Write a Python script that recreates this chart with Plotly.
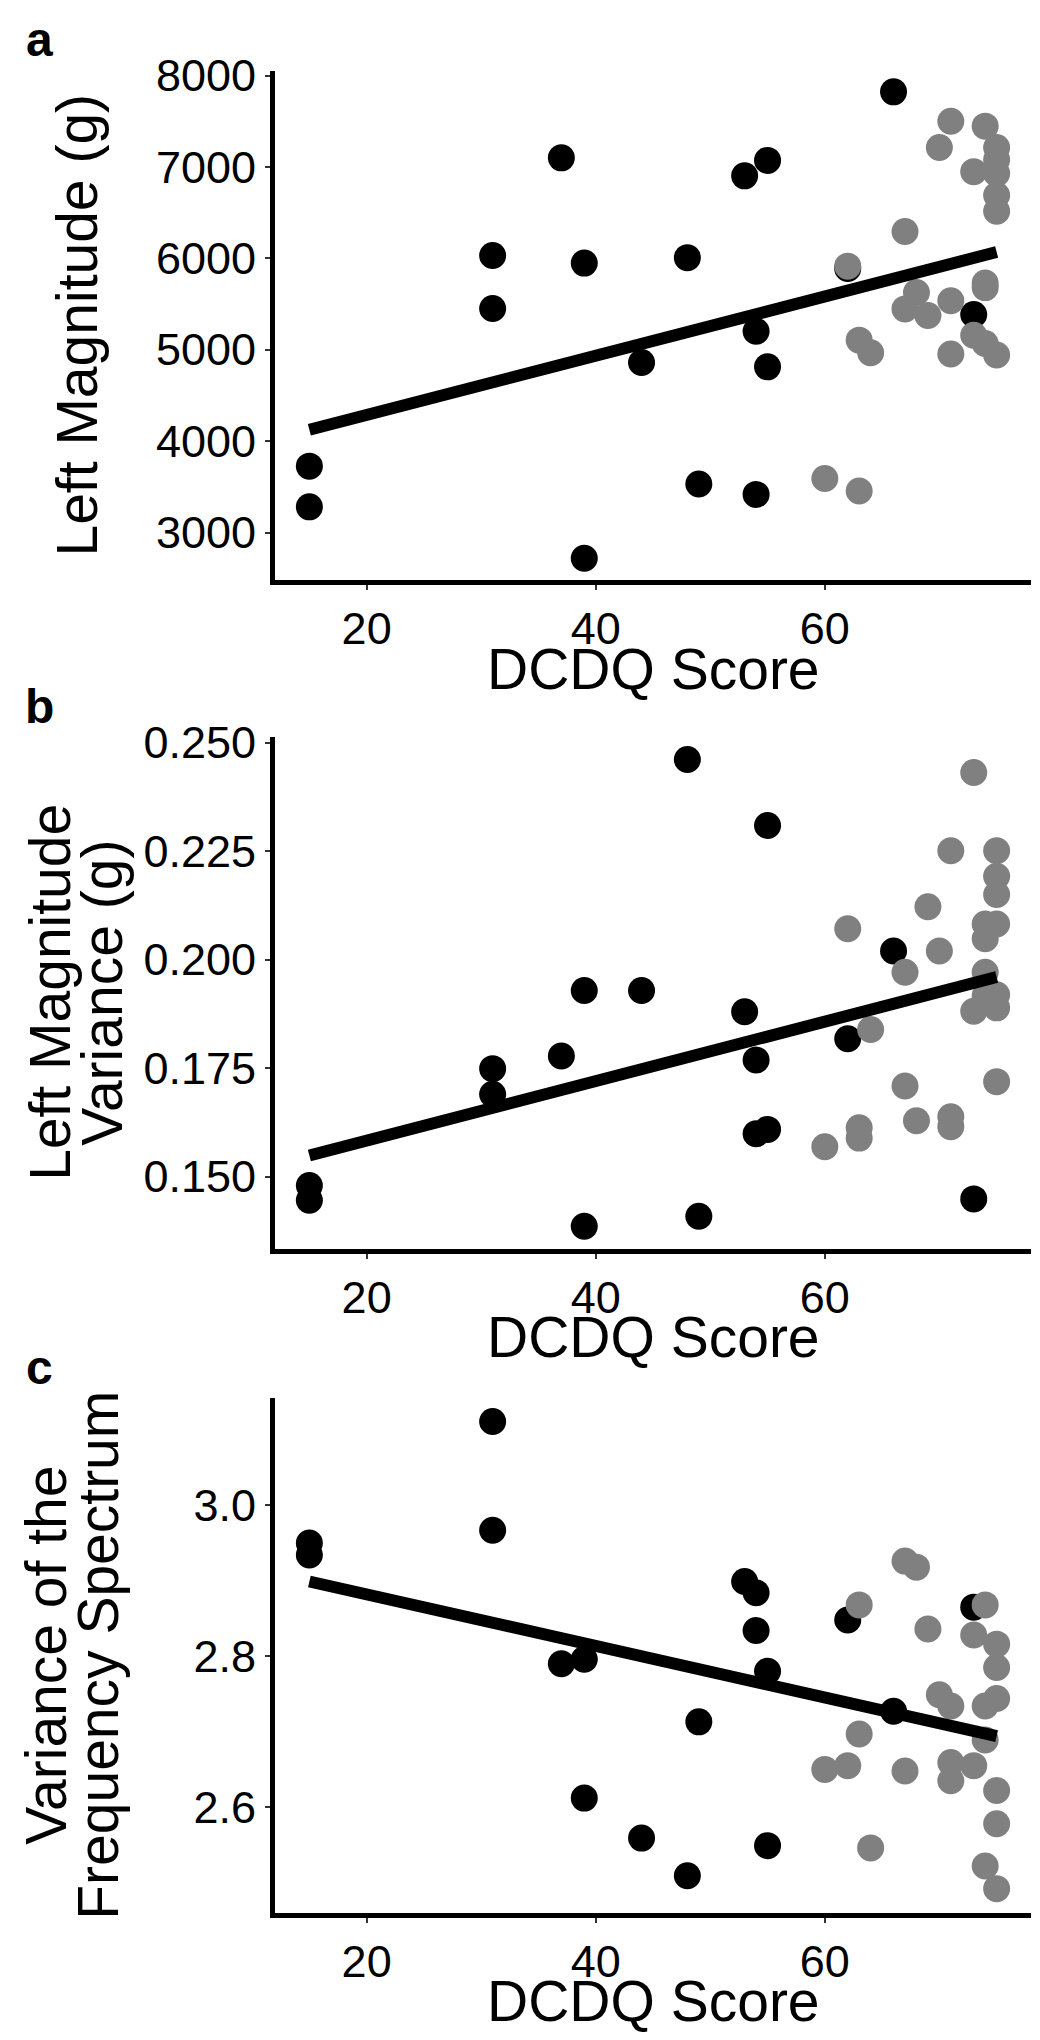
import plotly.graph_objects as go

# ---------------- data ----------------
black_x = [15, 15, 31, 31, 37, 39, 39, 44, 48, 49, 53, 54, 54, 55, 55, 62, 66, 73]

a_black = [3726, 3281, 6032, 5451, 7100, 5948, 2719, 4860, 6008, 3530, 6903, 5202, 3417, 7072, 4813, 5890, 7822, 5385]
b_black = [0.1480, 0.1446, 0.1749, 0.1690, 0.1778, 0.1929, 0.1386, 0.1929, 0.2461, 0.1409,
           0.1880, 0.1769, 0.1599, 0.2309, 0.1609, 0.1818, 0.2020, 0.1449]
c_black = [2.950, 2.934, 3.111, 2.967, 2.790, 2.796, 2.612, 2.559, 2.509, 2.713,
           2.899, 2.884, 2.834, 2.780, 2.549, 2.848, 2.727, 2.865]

a_gray_x = [60, 62, 63, 63, 64, 67, 67, 68, 69, 70, 71, 71, 71, 73, 73, 74, 74, 74, 74, 75, 75, 75, 75, 75, 75]
a_gray = [3591, 5915, 5105, 3454, 4968, 6294, 5447, 5627, 5375, 7213, 7501, 5537, 4954, 6949, 5159,
          7447, 5730, 5680, 5068, 7213, 7080, 6930, 6690, 6515, 4943]

b_gray_x = [60, 62, 63, 63, 64, 67, 67, 68, 69, 70, 71, 71, 71, 73, 73, 74, 74, 74, 74, 75, 75, 75, 75, 75, 75, 75]
b_gray = [0.1569, 0.2071, 0.1613, 0.1589, 0.1839, 0.1971, 0.1709, 0.1629, 0.2122, 0.2020, 0.2251, 0.1638, 0.1615,
          0.2431, 0.1881, 0.2082, 0.2048, 0.1971, 0.1917, 0.2251, 0.2192, 0.2150, 0.2082, 0.1919, 0.1889, 0.1719]

c_gray_x = [60, 62, 63, 63, 64, 67, 67, 68, 69, 70, 71, 71, 71, 73, 73, 74, 74, 74, 74, 75, 75, 75, 75, 75, 75]
c_gray = [2.650, 2.655, 2.868, 2.697, 2.546, 2.926, 2.648, 2.918, 2.836, 2.749, 2.734, 2.659, 2.635,
          2.828, 2.655, 2.868, 2.734, 2.689, 2.522, 2.816, 2.785, 2.744, 2.622, 2.578, 2.492]

fit_x = [15, 75]
a_fit = [4125, 6069]
b_fit = [0.1549, 0.1960]
c_fit = [2.899, 2.694]

x_ticks = [20, 40, 60]
a_ticks = [3000, 4000, 5000, 6000, 7000, 8000]
b_ticks = [0.150, 0.175, 0.200, 0.225, 0.250]
c_ticks = [2.6, 2.8, 3.0]

panel_letters = ["a", "b", "c"]
y_titles = [["Left Magnitude (g)"], ["Left Magnitude", "Variance (g)"], ["Variance of the", "Frequency Spectrum"]]
x_title = "DCDQ Score"

# ---------------- layout helpers ----------------
OFF = 8  # default page body margin; positions below are page pixels
W, H = 1040 - 2 * OFF, 2040 - 2 * OFF
FONT = "Liberation Sans, Arial, sans-serif"
TICK_SIZE = 45
TITLE_SIZE = 57
LETTER_SIZE = 48


def fx(p):
    return (p - OFF) / W


def fy(p):
    return 1 - (p - OFF) / H


GRAY = "#808080"
MSIZE = 27

panels = [
    dict(bx=black_x, by=a_black, gx=a_gray_x, gy=a_gray, fit=a_fit, yr=[2475, 8055],
         yt=a_ticks, fmt="d", top=51, bot=566, tx=[77]),
    dict(bx=black_x, by=b_black, gx=b_gray_x, gy=b_gray, fit=b_fit, yr=[0.1334, 0.2513],
         yt=b_ticks, fmt=".3f", top=724, bot=1241, tx=[50, 102]),
    dict(bx=black_x, by=c_black, gx=c_gray_x, gy=c_gray, fit=c_fit, yr=[2.4595, 3.1417],
         yt=c_ticks, fmt=".1f", top=1392, bot=1912, tx=[46, 98]),
]

PLOT_L, PLOT_R = 275, 1031

fig = go.Figure()
annotations = []
layout_axes = {}

for i, p in enumerate(panels):
    n = "" if i == 0 else str(i + 1)
    xa, ya = "x" + n, "y" + n
    fig.add_trace(go.Scatter(x=p["bx"], y=p["by"], mode="markers", xaxis=xa, yaxis=ya,
                             marker=dict(size=MSIZE, color="black", line=dict(width=0)),
                             showlegend=False, hoverinfo="skip"))
    fig.add_trace(go.Scatter(x=p["gx"], y=p["gy"], mode="markers", xaxis=xa, yaxis=ya,
                             marker=dict(size=MSIZE, color=GRAY, line=dict(width=0)),
                             showlegend=False, hoverinfo="skip"))
    fig.add_trace(go.Scatter(x=fit_x, y=p["fit"], mode="lines", xaxis=xa, yaxis=ya,
                             line=dict(color="black", width=12),
                             showlegend=False, hoverinfo="skip"))

    common = dict(showline=True, linecolor="black", linewidth=5, ticks="outside", ticklen=5,
                  tickwidth=1.5, tickcolor="#333333", showgrid=False, zeroline=False,
                  tickfont=dict(family=FONT, size=TICK_SIZE, color="black"))
    layout_axes["xaxis" + n] = dict(common, domain=[fx(PLOT_L), fx(PLOT_R)], range=[12, 78],
                                    tickvals=x_ticks, anchor=ya)
    layout_axes["yaxis" + n] = dict(common, domain=[fy(p["bot"]), fy(p["top"])], range=p["yr"],
                                    tickvals=p["yt"], tickformat=p["fmt"], anchor=xa)

    # panel letter
    annotations.append(dict(text="<b>%s</b>" % panel_letters[i], xref="paper", yref="paper",
                            x=fx(39), y=fy(p["top"] - 31), xanchor="center", yanchor="middle",
                            showarrow=False, font=dict(family=FONT, size=LETTER_SIZE, color="black")))
    # x title
    annotations.append(dict(text=x_title, xref="paper", yref="paper",
                            x=fx((PLOT_L + PLOT_R) / 2), y=fy(p["bot"] + 89), xanchor="center",
                            yanchor="middle", showarrow=False,
                            font=dict(family=FONT, size=TITLE_SIZE, color="black")))
    # y title lines
    mid = (p["top"] + p["bot"]) / 2
    for t, xc in zip(y_titles[i], p["tx"]):
        annotations.append(dict(text=t, xref="paper", yref="paper", x=fx(xc), y=fy(mid),
                                xanchor="center", yanchor="middle", textangle=-90, showarrow=False,
                                font=dict(family=FONT, size=TITLE_SIZE, color="black")))

fig.update_layout(width=W, height=H, margin=dict(l=0, r=0, t=0, b=0),
                  paper_bgcolor="white", plot_bgcolor="white",
                  font=dict(family=FONT, color="black"),
                  annotations=annotations, **layout_axes)

fig.write_html("out.html")
